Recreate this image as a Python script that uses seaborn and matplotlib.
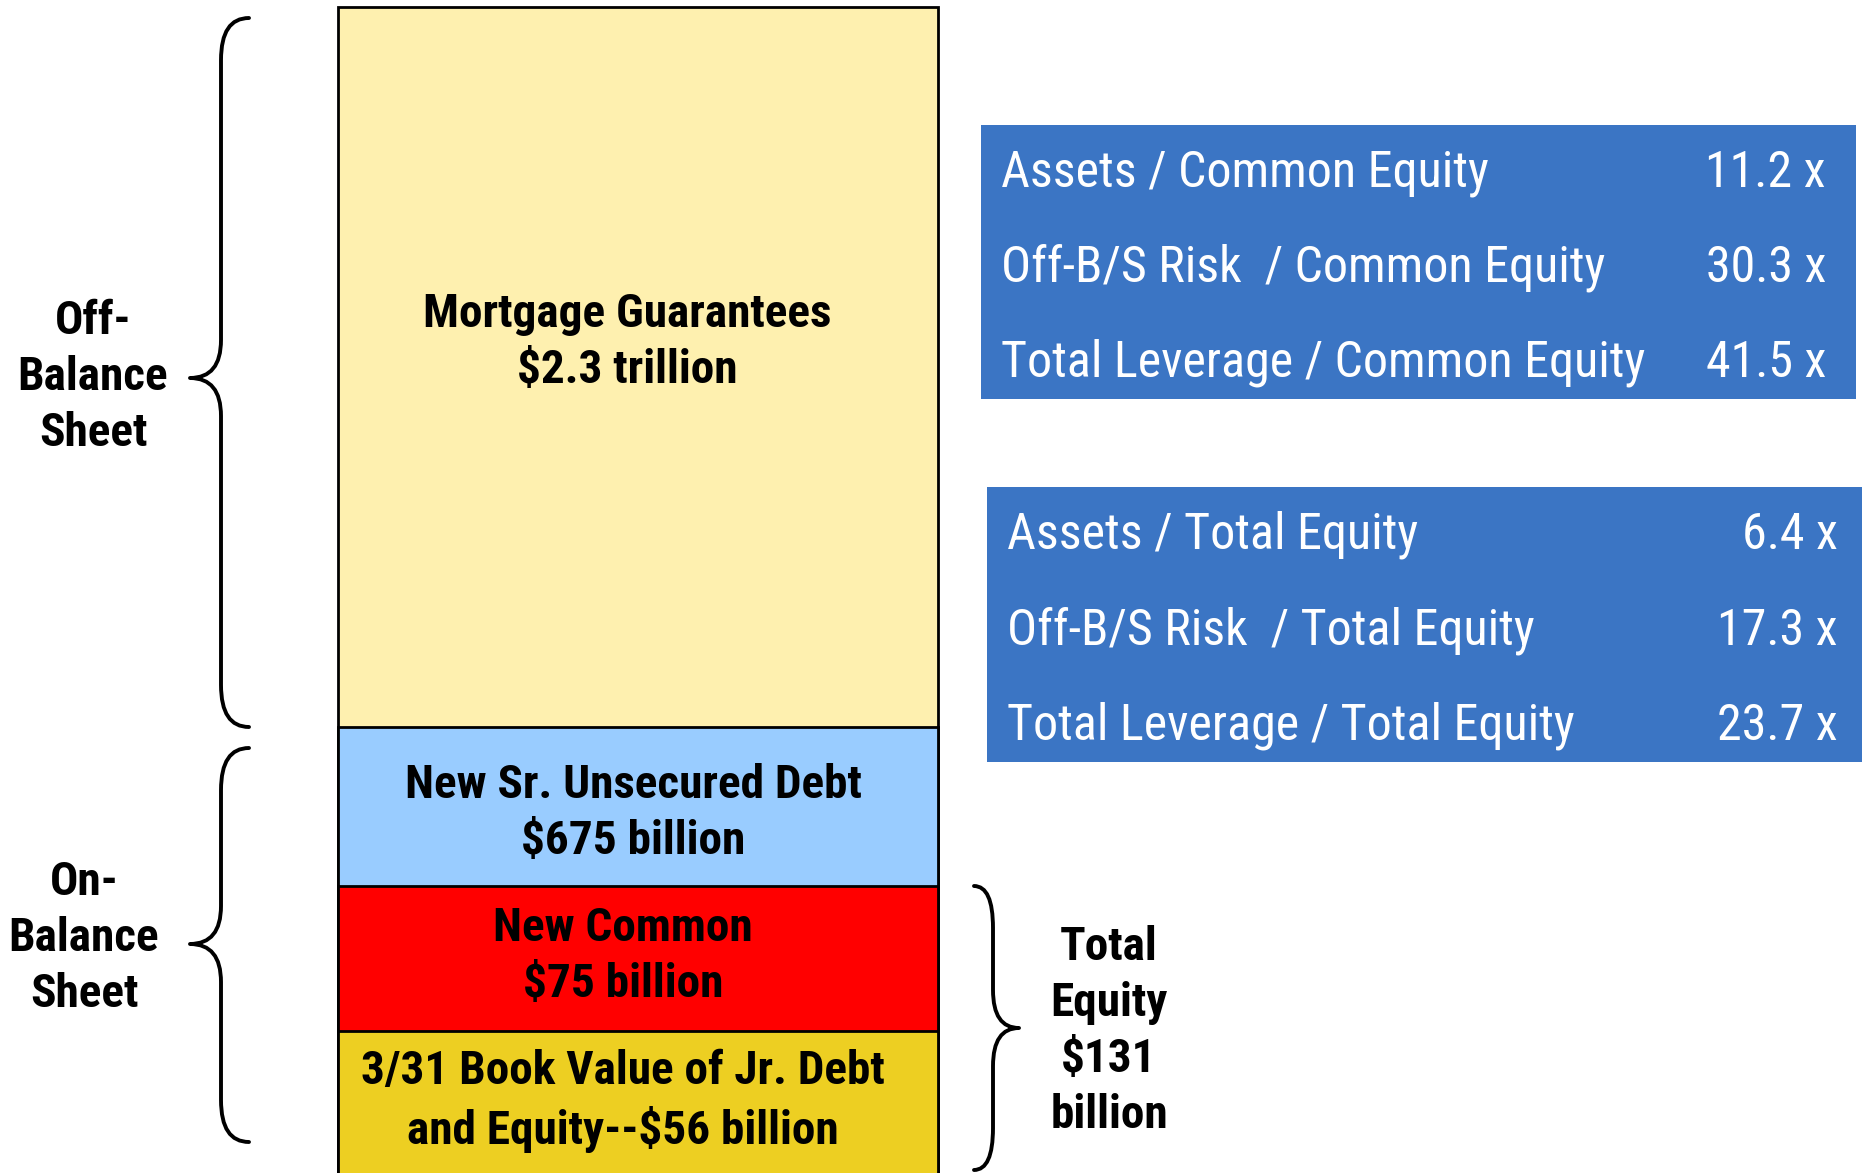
import numpy as np
import pandas as pd
import matplotlib
matplotlib.use("Agg")
import matplotlib.pyplot as plt
import seaborn as sns
from matplotlib.path import Path
from matplotlib.patches import PathPatch, Rectangle

# --- DADOS ---
# segmentos da pilha, de baixo para cima (alturas esquemáticas, como desenhadas)
segmentos = ["Book Value Jr. Debt + Equity", "New Common", "New Sr. Unsecured Debt", "Mortgage Guarantees"]
alturas = [150, 145, 159, 720]
cores = ["#EDCF22", "#FF0000", "#99CCFF", "#FEF0AF"]
rotulos_barra = [
    "3/31 Book Value of Jr. Debt\nand Equity--$56 billion",
    "New Common\n$75 billion",
    "New Sr. Unsecured Debt\n$675 billion",
    "Mortgage Guarantees\n$2.3 trillion",
]

ratios_comum = ["Assets / Common Equity", "Off-B/S Risk  / Common Equity", "Total Leverage / Common Equity"]
valores_comum = [11.2, 30.3, 41.5]
ratios_total = ["Assets / Total Equity", "Off-B/S Risk  / Total Equity", "Total Leverage / Total Equity"]
valores_total = [6.4, 17.3, 23.7]

W, H = 1862, 1173
AZUL = "#3B75C4"

sns.set_theme(style="white")
plt.rcParams["font.family"] = ["Roboto Condensed", "Liberation Sans", "DejaVu Sans"]

fig = plt.figure(figsize=(W / 100, H / 100), dpi=100)

# --- BARRA EMPILHADA ---
ax_bar = fig.add_axes([338 / W, 0, 600 / W, 1166 / H])
df = pd.DataFrame({"seg": segmentos, "altura": alturas, "cor": cores})
df["topo"] = df["altura"].cumsum()
for _, linha in df.iloc[::-1].iterrows():
    sns.barplot(x=["pilha"], y=[linha["topo"]], color=linha["cor"], saturation=1,
                edgecolor="black", linewidth=2.0, width=1.0, ax=ax_bar)
for p in ax_bar.patches:
    p.set_clip_on(False)
ax_bar.set_xlim(-0.5, 0.5)
ax_bar.set_ylim(8, df["topo"].iloc[-1])
ax_bar.axis("off")

# --- CAMADA DE ANOTAÇÕES (em pixels) ---
ov = fig.add_axes([0, 0, 1, 1], zorder=3)
ov.set_xlim(0, W)
ov.set_ylim(H, 0)
ov.axis("off")
ov.patch.set_alpha(0)


def chave(ax, x_fim, x_haste, x_ponta, y0, y1, y_ponta, r=42, rp=38):
    verts = [(x_fim, y0), (x_haste, y0), (x_haste, y0 + r),
             (x_haste, y_ponta - rp),
             (x_haste, y_ponta), (x_ponta, y_ponta),
             (x_haste, y_ponta), (x_haste, y_ponta + rp),
             (x_haste, y1 - r),
             (x_haste, y1), (x_fim, y1)]
    codes = [Path.MOVETO, Path.CURVE3, Path.CURVE3, Path.LINETO,
             Path.CURVE3, Path.CURVE3, Path.CURVE3, Path.CURVE3,
             Path.LINETO, Path.CURVE3, Path.CURVE3]
    ax.add_patch(PathPatch(Path(verts, codes), fill=False, lw=2.8, color="black",
                           capstyle="round", joinstyle="round"))


chave(ov, 249, 221, 190, 18, 727, 378)
chave(ov, 249, 221, 190, 748, 1142, 944)
chave(ov, 974, 993, 1019, 886, 1170, 1028)

kw_bold = dict(fontsize=34, fontweight="bold", color="black", ha="center", va="center",
               linespacing=1.35)
ov.text(93, 377, "Off-\nBalance\nSheet", **kw_bold)
ov.text(84, 938, "On-\nBalance\nSheet", **kw_bold)
ov.text(1109, 1031, "Total\nEquity\n$131\nbillion", **kw_bold)

# rótulos dos segmentos
pos_rotulos = [(623, 1101), (623, 956), (633, 813), (627, 342)]
for (x, y), txt in zip(pos_rotulos, rotulos_barra):
    ov.text(x, y, txt, **kw_bold)

# --- CAIXAS DE ALAVANCAGEM ---
caixas = [
    (981, 125, 1856, 399, 1001, 1826, [173, 268, 363], ratios_comum, valores_comum),
    (987, 487, 1862, 762, 1007, 1838, [535, 631, 726], ratios_total, valores_total),
]
for x0, y0, x1, y1, xl, xr, ys, rot, vals in caixas:
    ov.add_patch(Rectangle((x0, y0), x1 - x0, y1 - y0, color=AZUL, lw=0))
    for y, r, v in zip(ys, rot, vals):
        ov.text(xl, y, r, fontsize=36, color="white", ha="left", va="center")
        ov.text(xr, y, f"{v:.1f} x", fontsize=36, color="white", ha="right", va="center")

fig.savefig("out.png", dpi=100, facecolor="white")
